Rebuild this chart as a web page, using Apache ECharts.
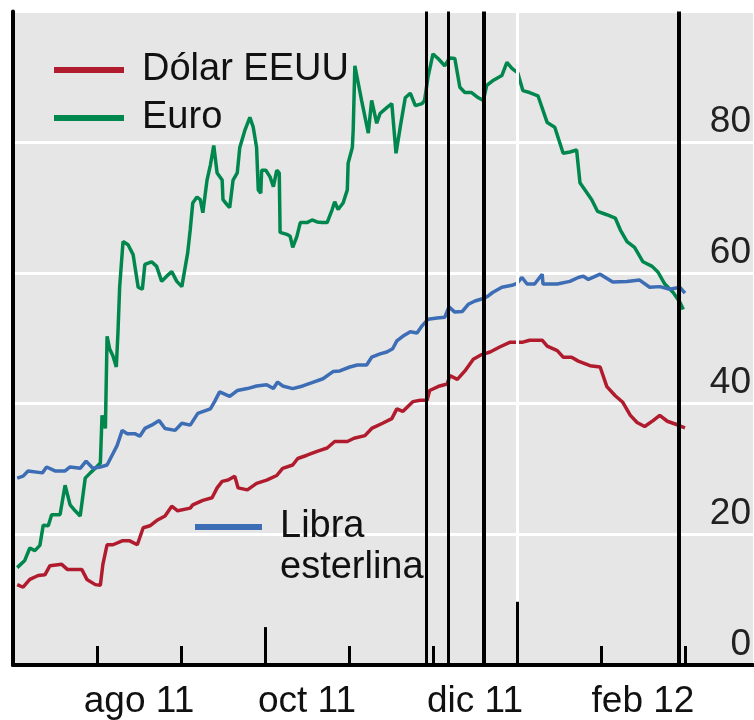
<!DOCTYPE html>
<html>
<head>
<meta charset="utf-8">
<script src="https://cdn.jsdelivr.net/npm/echarts@6/dist/echarts.min.js"></script>
<style>
  html, body { margin: 0; padding: 0; background: #fff; }
  #chart { width: 754px; height: 720px; }
</style>
</head>
<body>
<div id="chart"></div>
<script>
// x = months since 1 jul 2011 (the chart gives each month the same width)
const etiquetasMes = ['ago 11', 'oct 11', 'dic 11', 'feb 12'];
const posEtiquetas = [1.5, 3.5, 5.5, 7.5];
const posMarcas = [1, 2, 3, 4, 5, 6, 7, 8];
const marcasLargas = [[3, 5.8], [6, 9.7]]; // taller ticks: oct 11 and year start
const inicioAnio = 6;
const eventos = [4.92, 5.18, 5.61, 7.93]; // vertical black lines
const anchoEventos = [3, 3, 4, 4];
const valoresY = [0, 20, 40, 60, 80];

const dolar = [
  [0.05, 12.3], [0.12, 11.9], [0.20, 13.1], [0.30, 13.7], [0.38, 13.8], [0.44, 15.2],
  [0.58, 15.4], [0.65, 14.6], [0.82, 14.6], [0.88, 13.1], [0.98, 12.3], [1.04, 12.2],
  [1.07, 15.4], [1.12, 18.4], [1.19, 18.4], [1.30, 19.0], [1.39, 19.0], [1.48, 18.4],
  [1.55, 21.0], [1.63, 21.3], [1.71, 22.1], [1.81, 22.8], [1.89, 24.3], [1.96, 23.6],
  [2.11, 24.0], [2.14, 24.5], [2.26, 25.2], [2.37, 25.6], [2.43, 27.1], [2.49, 28.1],
  [2.56, 28.3], [2.64, 28.9], [2.68, 27.1], [2.79, 26.8], [2.90, 27.8], [3.02, 28.3],
  [3.14, 29.0], [3.21, 30.1], [3.33, 30.6], [3.39, 31.6], [3.50, 32.1], [3.62, 32.7],
  [3.74, 33.2], [3.83, 34.2], [3.98, 34.2], [4.06, 34.7], [4.19, 35.1], [4.27, 36.2],
  [4.40, 37.0], [4.51, 37.7], [4.57, 39.2], [4.64, 38.8], [4.76, 40.3], [4.85, 40.5],
  [4.93, 40.5], [4.96, 42.0], [5.08, 42.7], [5.17, 43.0], [5.20, 44.3], [5.29, 43.7],
  [5.38, 45.0], [5.48, 46.8], [5.58, 47.5], [5.68, 47.9], [5.80, 48.7], [5.92, 49.4],
  [6.07, 49.4], [6.15, 49.7], [6.30, 49.7], [6.36, 48.8], [6.48, 48.1], [6.55, 47.1],
  [6.65, 47.1], [6.73, 46.5], [6.87, 45.8], [6.99, 45.6], [7.07, 42.6], [7.17, 41.2],
  [7.26, 40.2], [7.35, 38.2], [7.43, 37.1], [7.52, 36.5], [7.62, 37.4], [7.70, 38.2],
  [7.79, 37.3], [7.90, 36.8], [8.00, 36.3]
];

const euro = [
  [0.05, 14.9], [0.14, 16.0], [0.20, 17.9], [0.26, 17.5], [0.32, 18.3], [0.36, 21.4],
  [0.42, 21.3], [0.46, 23.0], [0.56, 23.0], [0.62, 27.5], [0.68, 24.5], [0.74, 23.6],
  [0.80, 22.8], [0.86, 28.6], [0.92, 29.4], [0.98, 30.1], [1.04, 30.9], [1.06, 38.2],
  [1.10, 36.2], [1.12, 50.3], [1.15, 48.4], [1.19, 47.3], [1.23, 45.6], [1.25, 51.0],
  [1.27, 57.9], [1.31, 64.8], [1.37, 64.3], [1.43, 62.8], [1.49, 57.8], [1.54, 57.5],
  [1.57, 61.3], [1.65, 61.7], [1.71, 61.0], [1.77, 58.7], [1.83, 59.5], [1.89, 60.2],
  [1.95, 58.7], [2.01, 57.9], [2.08, 63.1], [2.11, 66.6], [2.14, 70.7], [2.19, 71.6],
  [2.23, 71.2], [2.26, 69.2], [2.31, 74.2], [2.35, 76.5], [2.39, 79.5], [2.43, 75.3],
  [2.49, 74.2], [2.50, 71.2], [2.55, 70.4], [2.58, 70.0], [2.62, 74.2], [2.67, 75.3],
  [2.70, 79.2], [2.76, 81.8], [2.82, 83.8], [2.86, 82.3], [2.90, 79.2], [2.92, 72.7],
  [2.95, 72.2], [2.96, 75.7], [3.01, 75.7], [3.06, 74.7], [3.10, 73.2], [3.14, 75.7],
  [3.17, 75.3], [3.18, 66.2], [3.26, 65.9], [3.30, 65.6], [3.33, 63.9], [3.38, 65.6],
  [3.42, 67.7], [3.50, 67.7], [3.56, 68.1], [3.62, 67.8], [3.68, 67.7], [3.74, 67.7],
  [3.80, 69.7], [3.83, 70.9], [3.87, 69.7], [3.93, 70.7], [3.98, 72.7], [3.99, 76.8],
  [4.04, 79.2], [4.05, 81.8], [4.07, 91.7], [4.15, 86.4], [4.23, 81.4], [4.27, 86.4],
  [4.33, 82.9], [4.37, 84.4], [4.45, 85.3], [4.51, 85.9], [4.56, 78.3], [4.61, 82.3],
  [4.67, 86.8], [4.73, 87.5], [4.79, 85.6], [4.87, 85.9], [4.90, 86.4], [4.94, 89.9],
  [5.00, 93.5], [5.06, 92.8], [5.14, 91.7], [5.20, 92.9], [5.26, 92.8], [5.32, 88.4],
  [5.38, 87.6], [5.46, 87.6], [5.54, 86.8], [5.60, 86.4], [5.64, 88.7], [5.71, 89.4],
  [5.82, 90.2], [5.88, 92.2], [5.94, 91.3], [6.01, 90.6], [6.07, 87.9], [6.15, 87.6],
  [6.25, 87.1], [6.36, 83.0], [6.45, 82.3], [6.55, 78.3], [6.63, 78.5], [6.71, 78.8],
  [6.75, 73.8], [6.81, 72.7], [6.89, 71.2], [6.96, 69.4], [7.07, 68.9], [7.17, 68.4],
  [7.23, 66.6], [7.31, 64.8], [7.40, 63.9], [7.50, 61.7], [7.61, 61.0], [7.68, 60.1],
  [7.76, 58.3], [7.86, 57.0], [7.94, 55.5], [7.98, 54.4]
];

const libra = [
  [0.05, 28.6], [0.12, 28.9], [0.18, 29.7], [0.35, 29.4], [0.40, 30.3], [0.50, 29.7],
  [0.62, 29.7], [0.68, 30.3], [0.80, 30.1], [0.87, 31.2], [0.95, 30.1], [1.04, 30.3],
  [1.12, 30.6], [1.18, 32.1], [1.24, 33.6], [1.30, 35.9], [1.36, 35.4], [1.45, 35.4],
  [1.51, 35.0], [1.57, 36.2], [1.65, 36.7], [1.74, 37.4], [1.81, 36.2], [1.93, 35.9],
  [2.01, 37.0], [2.11, 36.7], [2.13, 36.5], [2.20, 38.5], [2.35, 39.2], [2.40, 40.3],
  [2.46, 41.8], [2.58, 41.1], [2.67, 42.0], [2.79, 42.3], [2.90, 42.7], [3.02, 42.9],
  [3.10, 42.3], [3.15, 43.3], [3.21, 42.7], [3.33, 42.3], [3.45, 42.7], [3.56, 43.2],
  [3.69, 43.8], [3.81, 44.9], [3.89, 45.0], [4.01, 45.6], [4.10, 45.9], [4.21, 45.9],
  [4.27, 47.1], [4.37, 47.6], [4.45, 47.9], [4.52, 48.4], [4.57, 49.6], [4.64, 50.3],
  [4.73, 51.0], [4.81, 50.8], [4.87, 51.9], [4.94, 52.9], [5.05, 53.1], [5.14, 53.2],
  [5.19, 54.8], [5.26, 54.0], [5.35, 54.1], [5.42, 55.2], [5.50, 55.7], [5.58, 56.0],
  [5.65, 56.4], [5.71, 57.0], [5.82, 57.8], [5.94, 58.1], [6.00, 58.4], [6.06, 59.3],
  [6.12, 58.3], [6.21, 58.3], [6.30, 59.8], [6.31, 58.3], [6.48, 58.3], [6.63, 58.7],
  [6.73, 59.3], [6.79, 59.5], [6.85, 59.0], [6.99, 59.8], [7.14, 58.6], [7.31, 58.7],
  [7.46, 58.9], [7.58, 57.8], [7.70, 57.9], [7.82, 57.5], [7.94, 57.8], [8.00, 56.9]
];

const fuente = "'Liberation Sans', Arial, sans-serif";
const colores = ['#b01c2e', '#00874e', '#3d6db5'];

const chart = echarts.init(document.getElementById('chart'));

const lineasEvento = eventos.map((m, i) => ({
  xAxis: m,
  lineStyle: { color: '#000', width: anchoEventos[i], type: 'solid' }
}));

const lineasMarcas = marcasLargas.map(d => [
  { coord: [d[0], 0] },
  { coord: [d[0], d[1]] }
]);

const lineaAnio = [[
  { coord: [inicioAnio, marcasLargas[1][1]], lineStyle: { color: '#fff', width: 3 } },
  { coord: [inicioAnio, 100] }
]];

const option = {
  animation: false,
  backgroundColor: '#ffffff',
  textStyle: { fontFamily: fuente },
  grid: {
    left: 13, right: 0, top: 11.5, bottom: 52,
    show: true, backgroundColor: '#e6e6e6', borderWidth: 0
  },
  legend: [
    {
      data: ['Dólar EEUU', 'Euro'],
      orient: 'vertical',
      left: 54, top: 51,
      padding: 0,
      itemGap: 10,
      itemWidth: 70, itemHeight: 6,
      icon: 'rect',
      selectedMode: false,
      textStyle: { fontSize: 38, color: '#111', fontFamily: fuente, padding: [0, 0, 0, 13] }
    },
    {
      data: ['Libra esterlina'],
      left: 195, top: 508,
      padding: 0,
      itemWidth: 67, itemHeight: 6,
      icon: 'rect',
      selectedMode: false,
      formatter: () => 'Libra',
      textStyle: { fontSize: 38, color: '#111', fontFamily: fuente, padding: [0, 0, 0, 13] }
    }
  ],
  graphic: [{
    type: 'text',
    left: 280, top: 549,
    style: { text: 'esterlina', fontSize: 38, fill: '#111', fontFamily: fuente }
  }],
  xAxis: [
    {
      type: 'value', min: 0, max: 8.81,
      axisLine: { show: true, lineStyle: { color: '#000', width: 4 } },
      axisTick: { show: true, inside: true, length: 19, customValues: posMarcas,
                  lineStyle: { color: '#000', width: 3 } },
      axisLabel: {
        customValues: posEtiquetas,
        formatter: v => etiquetasMes[posEtiquetas.indexOf(v)] || '',
        fontSize: 37, color: '#111', fontFamily: fuente, margin: 18
      },
      splitLine: { show: false }
    },
    {
      type: 'value', min: 0, max: 8.81, position: 'top',
      axisLine: { show: true, lineStyle: { color: '#000', width: 3 } },
      axisTick: { show: false }, axisLabel: { show: false }, splitLine: { show: false }
    }
  ],
  yAxis: [
    {
      type: 'value', min: 0, max: 100, interval: 20, position: 'left',
      axisLine: { show: true, lineStyle: { color: '#000', width: 4 } },
      axisTick: { show: false }, axisLabel: { show: false },
      splitLine: { show: true, lineStyle: { color: '#fff', width: 3 } }
    },
    {
      type: 'value', min: 0, max: 100, interval: 20, position: 'right',
      axisLine: { show: false }, axisTick: { show: false }, splitLine: { show: false },
      axisLabel: {
        inside: true, margin: 2, align: 'right', verticalAlign: 'bottom',
        fontSize: 37, color: '#222', fontFamily: fuente, padding: [0, 0, 2, 0],
        formatter: v => (valoresY.indexOf(v) >= 0 ? String(v) : '')
      }
    }
  ],
  series: [
    {
      name: 'Dólar EEUU', type: 'line', data: dolar, showSymbol: false,
      lineStyle: { color: colores[0], width: 3.5 }, itemStyle: { color: colores[0] },
      markLine: {
        silent: true, symbol: 'none', label: { show: false },
        lineStyle: { color: '#000', width: 3, type: 'solid' },
        data: lineasEvento.concat(lineasMarcas, lineaAnio)
      },
      z: 3
    },
    {
      name: 'Euro', type: 'line', data: euro, showSymbol: false,
      lineStyle: { color: colores[1], width: 3.5 }, itemStyle: { color: colores[1] }, z: 3
    },
    {
      name: 'Libra esterlina', type: 'line', data: libra, showSymbol: false,
      lineStyle: { color: colores[2], width: 3.5 }, itemStyle: { color: colores[2] }, z: 3
    }
  ]
};

chart.setOption(option);
</script>
</body>
</html>
